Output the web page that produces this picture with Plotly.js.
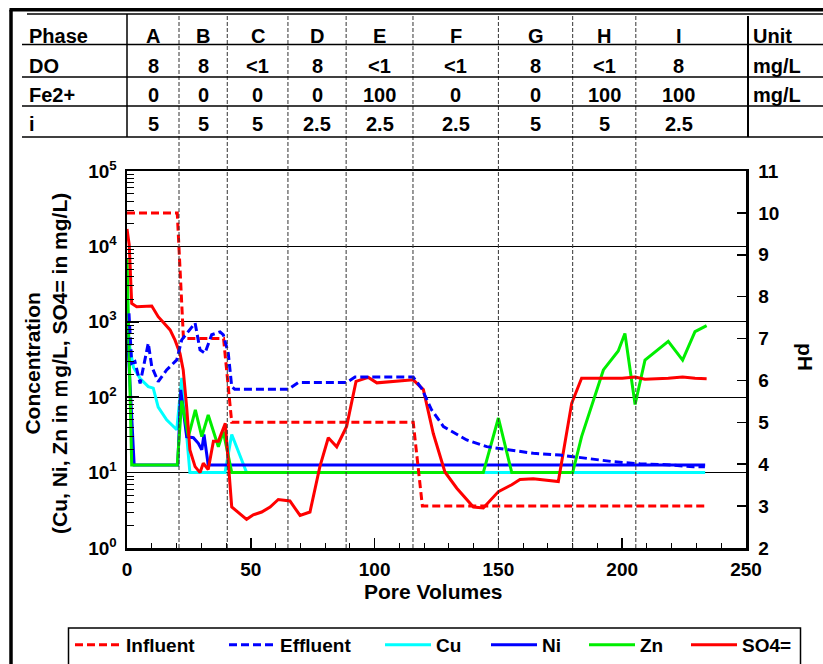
<!DOCTYPE html>
<html>
<head>
<meta charset="utf-8">
<script src="https://cdn.plot.ly/plotly-3.0.1.min.js"></script>
<style>
html,body{margin:0;padding:0;background:#fff;}
#chart{width:823px;height:664px;}
</style>
</head>
<body>
<div id="chart"></div>
<script>
// ---------------- DATA ----------------
// Phase boundaries (pore volumes) and table contents
const phaseBounds = [21, 40.5, 65, 88.5, 115.5, 150, 180, 205.5];
const phaseLabels = ['A','B','C','D','E','F','G','H','I'];
const doRow = ['8','8','<1','8','<1','<1','8','<1','8'];
const feRow = ['0','0','0','0','100','0','0','100','100'];
const iRow  = ['5','5','5','2.5','2.5','2.5','5','5','2.5'];
const rowNames = ['Phase','DO','Fe2+','i'];
const unitCol = ['Unit','mg/L','mg/L',''];

// Influent pH (right axis)
const infX  = [0, 20.3, 22.8, 39, 42.3, 115.6, 119.3, 233.5];
const infPH = [10, 10, 7, 7, 5, 5, 3, 3];

// Effluent pH (right axis)
const effX  = [0.8, 1.9, 3.2, 5.3, 8.6, 10.0, 12.6, 16.0, 20.1, 22.1, 27.5, 29.5, 31.5, 34.2, 37.6, 38.9, 40.9, 42.3, 43.5, 65.2, 69.2, 88.7, 92.1, 115.6, 119, 123, 127.8, 137.2, 145.3, 154.7, 164.1, 174.9, 185.7, 196.4, 207.2, 218, 228.7, 233.4];
const effPH = [7.6, 6.41, 6.45, 5.93, 6.89, 6.33, 5.97, 6.25, 6.49, 6.97, 7.37, 6.73, 6.65, 7.09, 7.16, 7.09, 6.65, 5.85, 5.79, 5.79, 5.95, 5.95, 6.08, 6.08, 5.81, 5.30, 4.90, 4.58, 4.42, 4.34, 4.26, 4.22, 4.14, 4.06, 4.01, 3.99, 3.94, 3.94];

// Cu (mg/L)
const cuX = [0, 2.6, 5.3, 8.6, 10.6, 12.6, 16, 20.1, 22.1, 25.4, 39.6, 42.3, 48.3, 233.5];
const cuY = [740, 250, 177, 138, 132, 74, 50, 37, 180, 10, 10, 32, 10, 10];

// Ni (mg/L)
const niX = [0, 2.9, 20.5, 21.7, 24.1, 26.8, 28.8, 30.2, 31.1, 32.8, 233.5];
const niY = [900, 12.6, 12.6, 125, 30, 29, 24.5, 20, 32, 12.6, 12.6];

// Zn (mg/L)
const znX = [0, 1.9, 20.3, 22.1, 24.8, 27.6, 30.2, 32.8, 36.9, 38.9, 42.3, 143.9, 150, 155.4, 180, 183.6, 192.4, 198.4, 201.1, 205.2, 209.2, 218.6, 224.4, 229.4, 234.1];
const znY = [6900, 12.6, 12.6, 90, 30, 68, 30, 58, 22, 35, 10, 10, 53, 10, 10, 30, 230, 410, 700, 80, 310, 550, 310, 740, 890];

// SO4= (mg/L)
const so4X = [0, 0.9, 1.9, 3.9, 10, 12.6, 17.4, 19.4, 21.4, 22.7, 24.1, 25.4, 27.5, 29.5, 30.8, 32.8, 34.9, 36.9, 39.7, 42.3, 48.3, 51, 54.4, 57.8, 61.1, 65.8, 69.9, 73.9, 77.9, 81.3, 84.7, 88.7, 92.5, 97.5, 100.9, 107.6, 115.6, 119.7, 123.7, 128.4, 133.2, 139.9, 143.9, 150, 155.4, 158.7, 164.1, 174.2, 179.6, 183.6, 200, 205.2, 209.2, 218.6, 224.4, 229.4, 234.1];
const so4Y = [17000, 10500, 1750, 1580, 1620, 1170, 780, 570, 380, 230, 74, 20, 12, 10, 13.3, 11, 26, 26, 45, 3.5, 2.4, 2.75, 3.0, 3.5, 4.4, 4.2, 2.7, 3.0, 12, 29, 22, 41, 162, 183, 155, 160, 170, 126, 33, 10.2, 6.2, 3.5, 3.4, 5.6, 6.9, 8.1, 8.3, 7.6, 83, 178, 178, 185, 173, 178, 185, 178, 176];

const logTickVals = [1, 10, 100, 1000, 10000, 100000];
const logTickText = ['10<sup>0</sup>','10<sup>1</sup>','10<sup>2</sup>','10<sup>3</sup>','10<sup>4</sup>','10<sup>5</sup>'];

// ---------------- LAYOUT HELPERS ----------------
const W = 823, H = 664, PL = 127, PR = 746, PT = 171, PB = 548;
const px2X = px => (px - PL) / (PR - PL);
const py2Y = py => (PB - py) / (PB - PT);
const FONT = 'Liberation Sans, Arial, sans-serif';

const minorVals = [];
for (let d = 0; d < 5; d++) for (let k = 2; k <= 9; k++) minorVals.push(k * Math.pow(10, d));

const lastEdge = 240;
const edges = [0].concat(phaseBounds, [lastEdge]);
const colCenters = phaseLabels.map((_, j) => (edges[j] + edges[j + 1]) / 2);

// ---------------- TRACES ----------------
const traces = [
  {x: cuX, y: cuY, name: 'Cu', mode: 'lines', line: {color: '#00ffff', width: 3}, legend: 'legend3'},
  {x: niX, y: niY, name: 'Ni', mode: 'lines', line: {color: '#0000ff', width: 3}, legend: 'legend4'},
  {x: znX, y: znY, name: 'Zn', mode: 'lines', line: {color: '#00ee00', width: 3}, legend: 'legend5'},
  {x: so4X, y: so4Y, name: 'SO4=', mode: 'lines', line: {color: '#ff0000', width: 3}, legend: 'legend6'},
  {x: infX, y: infPH, name: 'Influent', yaxis: 'y2', mode: 'lines', line: {color: '#ff0000', width: 3, dash: '8px,4px'}, legend: 'legend'},
  {x: effX, y: effPH, name: 'Effluent', yaxis: 'y2', mode: 'lines', line: {color: '#0000ff', width: 3, dash: '8px,4px'}, legend: 'legend2'}
];

// ---------------- SHAPES ----------------
const shapes = [];
phaseBounds.forEach(b => shapes.push({type: 'line', xref: 'x', yref: 'paper', x0: b, x1: b, y0: 0, y1: py2Y(14), line: {color: '#333', width: 1, dash: '4px,2px'}}));
shapes.push({type: 'line', xref: 'paper', yref: 'paper', x0: px2X(27), x1: px2X(823), y0: py2Y(14), y1: py2Y(14), line: {color: '#000', width: 1.5}});
[44.5, 77, 106, 137].forEach(py => shapes.push({type: 'line', xref: 'paper', yref: 'paper', x0: px2X(22), x1: px2X(823), y0: py2Y(py), y1: py2Y(py), line: {color: '#000', width: 1.5}}));
shapes.push({type: 'line', xref: 'paper', yref: 'paper', x0: 0, x1: 0, y0: py2Y(14), y1: py2Y(137), line: {color: '#000', width: 1.5}});
shapes.push({type: 'line', xref: 'paper', yref: 'paper', x0: px2X(748), x1: px2X(748), y0: py2Y(16), y1: py2Y(137), line: {color: '#000', width: 2}});
// outer frame
shapes.push({type: 'line', xref: 'paper', yref: 'paper', x0: px2X(9.5), x1: px2X(823), y0: py2Y(9.7), y1: py2Y(9.7), line: {color: '#000', width: 3.5}});
shapes.push({type: 'line', xref: 'paper', yref: 'paper', x0: px2X(11), x1: px2X(11), y0: py2Y(9.7), y1: py2Y(664), line: {color: '#000', width: 3.5}});
// legend box
shapes.push({type: 'rect', xref: 'paper', yref: 'paper', x0: px2X(68.5), x1: px2X(800.5), y0: py2Y(628), y1: py2Y(672), line: {color: '#000', width: 1.5}});

// ---------------- ANNOTATIONS ----------------
const annotations = [];
const rowPY = [36, 66, 95, 124];
const rows = [phaseLabels, doRow, feRow, iRow];
rowNames.forEach((name, r) => {
  annotations.push({xref: 'paper', yref: 'paper', x: px2X(27), y: py2Y(rowPY[r]), xanchor: 'left', yanchor: 'middle', text: name, showarrow: false, font: {size: 20}});
  rows[r].forEach((v, j) => annotations.push({xref: 'x', yref: 'paper', x: colCenters[j], y: py2Y(rowPY[r]), xanchor: 'center', yanchor: 'middle', text: v, showarrow: false, font: {size: 20}}));
  if (unitCol[r]) annotations.push({xref: 'paper', yref: 'paper', x: px2X(751), y: py2Y(rowPY[r]), xanchor: 'left', yanchor: 'middle', text: unitCol[r], showarrow: false, font: {size: 20}});
});
annotations.push({xref: 'paper', yref: 'paper', x: px2X(46), y: py2Y(364), xanchor: 'center', yanchor: 'middle', textangle: -90,
  text: 'Concentration<br>(Cu, Ni, Zn in ｍg/L, SO4= in mg/L)', showarrow: false, font: {size: 21}});
annotations.push({xref: 'paper', yref: 'paper', x: px2X(806), y: py2Y(357), xanchor: 'center', yanchor: 'middle', textangle: 90,
  text: 'pH', showarrow: false, font: {size: 21}});
annotations.push({xref: 'paper', yref: 'paper', x: px2X(433), y: py2Y(591), xanchor: 'center', yanchor: 'middle',
  text: 'Pore Volumes', showarrow: false, font: {size: 21}});

// ---------------- LEGENDS ----------------
const legendBase = {orientation: 'h', xanchor: 'left', yanchor: 'middle', y: py2Y(645), bgcolor: 'rgba(0,0,0,0)', borderwidth: 0, font: {size: 19}, itemwidth: 46, tracegroupgap: 0};
const legStart = [70, 224, 380, 486, 584, 686];
const legNames = ['legend','legend2','legend3','legend4','legend5','legend6'];

const layout = {
  width: W, height: H,
  margin: {l: PL, r: W - PR, t: PT, b: H - PB, pad: 0, autoexpand: false},
  paper_bgcolor: '#fff', plot_bgcolor: '#fff',
  font: {family: FONT, size: 19, color: '#000', weight: 700},
  showlegend: true,
  xaxis: {
    range: [0, 250], tickvals: [0, 50, 100, 150, 200, 250], ticks: 'inside', ticklen: 10, tickwidth: 1.5, tickcolor: '#000',
    minor: {dtick: 10, tick0: 0, ticks: 'inside', ticklen: 5, tickwidth: 1, tickcolor: '#000', showgrid: false},
    showline: true, linecolor: '#000', linewidth: 2.5, mirror: true, showgrid: false, zeroline: false,
    tickfont: {size: 19}, ticklabelstandoff: 3, automargin: false
  },
  yaxis: {
    type: 'log', range: [0, 5], tickvals: logTickVals, ticktext: logTickText, ticks: 'inside', ticklen: 12, tickwidth: 1.5, tickcolor: '#000',
    minor: {tickvals: minorVals, ticks: 'inside', ticklen: 7, tickwidth: 1, tickcolor: '#000', showgrid: false},
    showline: true, linecolor: '#000', linewidth: 2.5, mirror: false, showgrid: true, gridcolor: '#000', gridwidth: 1, zeroline: false,
    tickfont: {size: 19}, ticklabelstandoff: 4, automargin: false
  },
  yaxis2: {
    overlaying: 'y', side: 'right', range: [2, 11], dtick: 1, tick0: 2, ticks: 'inside', ticklen: 9, tickwidth: 1.5, tickcolor: '#000',
    showline: true, linecolor: '#000', linewidth: 2.5, showgrid: false, zeroline: false, tickfont: {size: 19},
    ticklabelstandoff: 6, automargin: false
  },
  shapes: shapes,
  annotations: annotations
};
legNames.forEach((n, i) => { layout[n] = Object.assign({}, legendBase, {x: px2X(legStart[i])}); });

Plotly.newPlot('chart', traces, layout, {displayModeBar: false, staticPlot: true});
</script>
</body>
</html>
